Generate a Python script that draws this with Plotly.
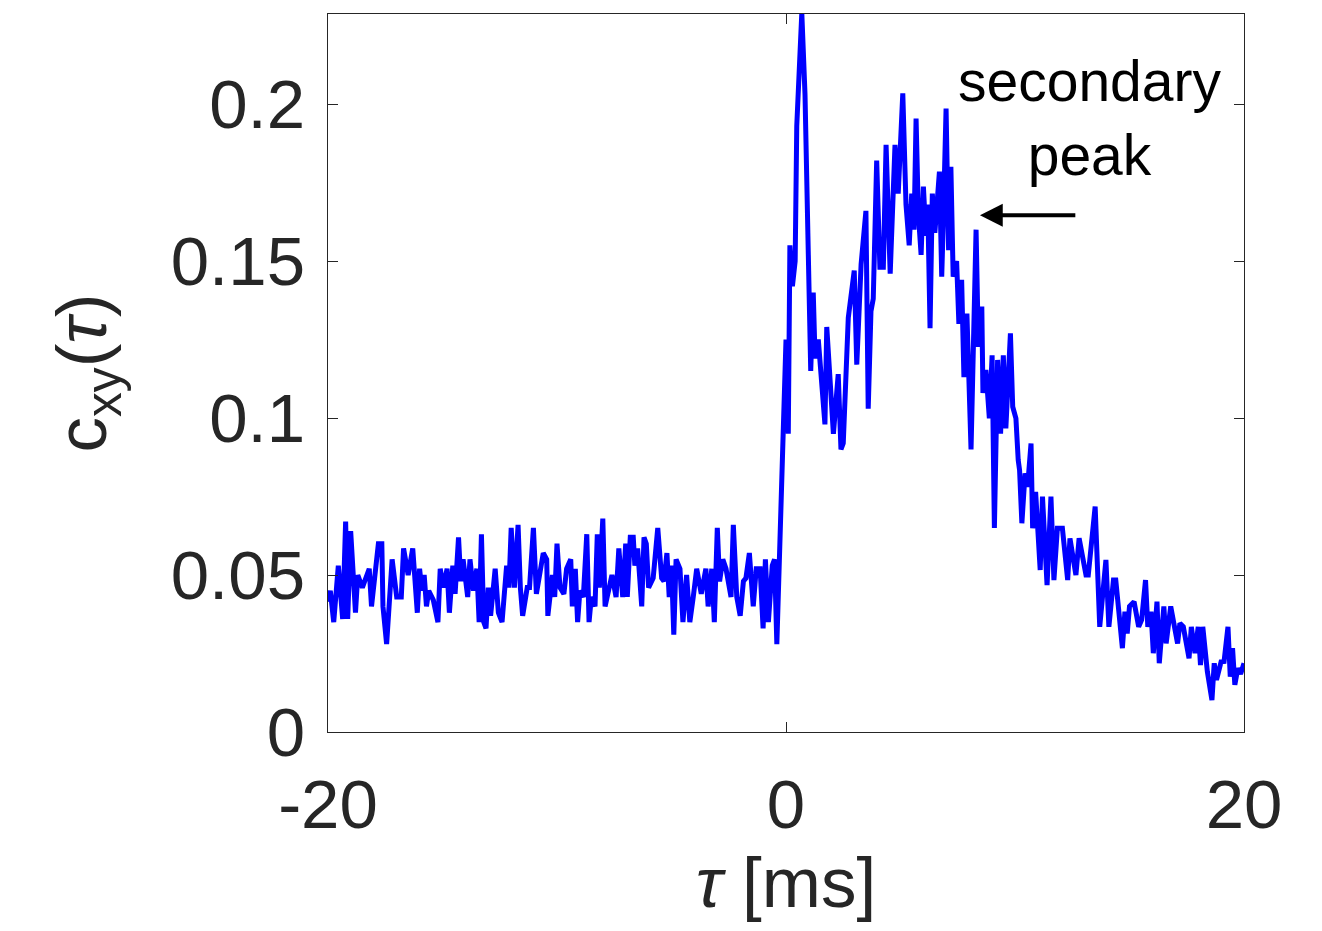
import plotly.graph_objects as go

# Lag axis (ms) and cross-correlation values
tau = [
    -20.0, -19.9, -19.75, -19.55, -19.36, -19.23, -19.14, -19.01, -18.8, -18.7,
    -18.5, -18.2, -18.1, -17.8, -17.65, -17.6, -17.44, -17.2, -17.0, -16.8,
    -16.7, -16.5, -16.3, -16.1, -16.0, -15.9, -15.8, -15.7, -15.6, -15.4,
    -15.2, -15.1, -14.96, -14.8, -14.7, -14.55, -14.45, -14.3, -14.2, -14.1,
    -13.9, -13.8, -13.65, -13.5, -13.4, -13.3, -13.2, -13.1, -13.0, -12.9,
    -12.7, -12.56, -12.4, -12.2, -12.1, -12.0, -11.86, -11.7, -11.6, -11.5,
    -11.3, -11.2, -11.03, -10.9, -10.6, -10.45, -10.4, -10.2, -10.1, -10.0,
    -9.87, -9.7, -9.58, -9.4, -9.33, -9.2, -9.1, -9.0, -8.85, -8.7,
    -8.6, -8.5, -8.34, -8.24, -8.15, -8.0, -7.9, -7.76, -7.6, -7.42,
    -7.3, -7.13, -7.0, -6.93, -6.8, -6.67, -6.6, -6.48, -6.3, -6.2,
    -6.1, -6.0, -5.8, -5.6, -5.43, -5.33, -5.2, -5.1, -5.0, -4.9,
    -4.8, -4.63, -4.5, -4.34, -4.2, -4.05, -3.9, -3.7, -3.5, -3.4,
    -3.24, -3.13, -3.0, -2.9, -2.76, -2.62, -2.4, -2.3, -2.15, -2.0,
    -1.86, -1.75, -1.6, -1.43, -1.3, -1.13, -1.0, -0.9, -0.77, -0.6,
    -0.5, -0.4, -0.2, 0.0, 0.1, 0.17, 0.28, 0.4, 0.47, 0.69,
    0.83, 1.08, 1.19, 1.27, 1.41, 1.7, 1.78, 2.07, 2.28, 2.4,
    2.5, 2.72, 2.98, 3.09, 3.28, 3.49, 3.59, 3.71, 3.81, 3.96,
    4.1, 4.25, 4.37, 4.55, 4.76, 4.9, 5.1, 5.24, 5.38, 5.49,
    5.59, 5.68, 5.78, 5.9, 6.0, 6.11, 6.19, 6.29, 6.39, 6.5,
    6.7, 6.8, 6.87, 6.99, 7.1, 7.2, 7.3, 7.45, 7.55, 7.67,
    7.77, 7.9, 8.08, 8.3, 8.4, 8.55, 8.6, 8.73, 8.88, 9.0,
    9.1, 9.24, 9.37, 9.49, 9.6, 9.8, 9.9, 10.04, 10.14, 10.2,
    10.3, 10.44, 10.55, 10.7, 10.77, 10.9, 11.1, 11.2, 11.4, 11.57,
    11.7, 11.85, 12.07, 12.3, 12.4, 12.66, 12.8, 12.96, 13.1, 13.2,
    13.5, 13.7, 13.97, 14.1, 14.3, 14.4, 14.69, 14.8, 14.9, 15.0,
    15.2, 15.4, 15.53, 15.7, 15.8, 15.94, 16.04, 16.2, 16.3, 16.5,
    16.6, 16.8, 16.94, 17.1, 17.2, 17.35, 17.6, 17.7, 17.86, 18.0,
    18.1, 18.2, 18.4, 18.6, 18.7, 18.8, 19.0, 19.13, 19.3, 19.4,
    19.5, 19.6, 19.73, 19.85, 20.0,
]

cxy = [
    0.0415, 0.045, 0.035, 0.053, 0.036, 0.067, 0.036, 0.064, 0.038, 0.050,
    0.046, 0.052, 0.040, 0.060, 0.060, 0.040, 0.028, 0.055, 0.043, 0.043,
    0.0585, 0.050, 0.0585, 0.038, 0.052, 0.045, 0.050, 0.040, 0.045, 0.042,
    0.035, 0.052, 0.046, 0.052, 0.038, 0.053, 0.044, 0.062, 0.048, 0.055,
    0.043, 0.055, 0.045, 0.052, 0.035, 0.063, 0.035, 0.033, 0.046, 0.037,
    0.052, 0.038, 0.035, 0.053, 0.046, 0.065, 0.046, 0.066, 0.046, 0.037,
    0.046, 0.046, 0.065, 0.044, 0.057, 0.055, 0.037, 0.050, 0.043, 0.060,
    0.046, 0.044, 0.052, 0.055, 0.040, 0.052, 0.035, 0.045, 0.043, 0.063,
    0.035, 0.043, 0.040, 0.063, 0.046, 0.068, 0.040, 0.044, 0.050, 0.043,
    0.0585, 0.043, 0.060, 0.043, 0.062, 0.062, 0.053, 0.0585, 0.040, 0.062,
    0.060, 0.046, 0.049, 0.065, 0.049, 0.048, 0.057, 0.043, 0.053, 0.031,
    0.055, 0.052, 0.035, 0.050, 0.035, 0.043, 0.052, 0.044, 0.052, 0.040,
    0.052, 0.035, 0.065, 0.048, 0.055, 0.052, 0.043, 0.066, 0.043, 0.037,
    0.048, 0.049, 0.057, 0.040, 0.052, 0.052, 0.033, 0.055, 0.035, 0.053,
    0.055, 0.028, 0.080, 0.125, 0.095, 0.155, 0.142, 0.150, 0.193, 0.229,
    0.203, 0.115, 0.140, 0.119, 0.125, 0.098, 0.129, 0.095, 0.114, 0.090,
    0.092, 0.132, 0.147, 0.117, 0.149, 0.166, 0.103, 0.134, 0.138, 0.182,
    0.148, 0.148, 0.187, 0.146, 0.187, 0.1715, 0.2034, 0.168, 0.155, 0.1715,
    0.160, 0.1954, 0.165, 0.152, 0.1737, 0.158, 0.168, 0.1286, 0.1715, 0.159,
    0.1785, 0.145, 0.163, 0.1986, 0.1535, 0.180, 0.145, 0.150, 0.130, 0.144,
    0.113, 0.1333, 0.090, 0.160, 0.1227, 0.1355, 0.108, 0.1153, 0.0999, 0.120,
    0.065, 0.1185, 0.095, 0.120, 0.0967, 0.127, 0.1036, 0.0999, 0.0866, 0.0834,
    0.0665, 0.0824, 0.0781, 0.0919, 0.0649, 0.0765, 0.0516, 0.075, 0.0468, 0.075,
    0.0484, 0.0649, 0.0649, 0.0484, 0.0617, 0.050, 0.0617, 0.0548, 0.050, 0.050,
    0.0718, 0.0335, 0.0548, 0.0335, 0.0484, 0.0484, 0.0267, 0.0383, 0.0314, 0.040,
    0.0415, 0.0335, 0.0357, 0.0484, 0.0335, 0.0383, 0.0251, 0.0415, 0.0219, 0.040,
    0.0282, 0.040, 0.0335, 0.0282, 0.0346, 0.0335, 0.0235, 0.0335, 0.0251, 0.0335,
    0.0213, 0.0335, 0.0192, 0.0102, 0.0219, 0.0166, 0.0224, 0.0225, 0.0335, 0.0176,
    0.0267, 0.015, 0.0203, 0.0185, 0.0219,
]

x_tickvals = [-20, 0, 20]
x_ticktext = ["-20", "0", "20"]
y_tickvals = [0, 0.05, 0.1, 0.15, 0.2]
y_ticktext = ["0", "0.05", "0.1", "0.15", "0.2"]

FONT = "Liberation Sans, Arial, Helvetica, sans-serif"
AXC = "#262626"

fig = go.Figure()
fig.add_trace(go.Scatter(
    x=tau, y=cxy, mode="lines",
    line=dict(color="#0000FF", width=5),
    showlegend=False,
))

axis_common = dict(
    showline=True, linecolor=AXC, linewidth=1.3, mirror="allticks",
    ticks="inside", ticklen=10, tickwidth=1.3, tickcolor=AXC,
    showgrid=False, zeroline=False,
    tickfont=dict(family=FONT, size=69, color=AXC),
)

fig.update_xaxes(
    range=[-20, 20], tickvals=x_tickvals, ticktext=x_ticktext,
    title=dict(text="<i>τ</i> [ms]", font=dict(family=FONT, size=71, color=AXC), standoff=10),
    ticklabelstandoff=12,
    **axis_common,
)
fig.update_yaxes(
    range=[0, 0.2287], tickvals=y_tickvals, ticktext=y_ticktext,
    title=dict(text="c<sub>xy</sub>(<i>τ</i>)", font=dict(family=FONT, size=71, color=AXC), standoff=40),
    ticklabelstandoff=8,
    **axis_common,
)

fig.add_annotation(
    x=13.27, y=0.1955, xref="x", yref="y",
    text="secondary<br>peak", showarrow=False,
    font=dict(family=FONT, size=57, color="black"),
    xanchor="center", yanchor="middle",
)
fig.add_annotation(
    x=8.47, y=0.1646, xref="x", yref="y",
    ax=12.7, ay=0.1646, axref="x", ayref="y",
    text="", showarrow=True, arrowhead=2, arrowsize=1.2,
    arrowwidth=3.8, arrowcolor="black",
)

fig.update_layout(
    width=1322, height=931,
    margin=dict(l=328, r=78, t=14, b=199),
    paper_bgcolor="white", plot_bgcolor="white",
)

fig.write_html("out.html")
